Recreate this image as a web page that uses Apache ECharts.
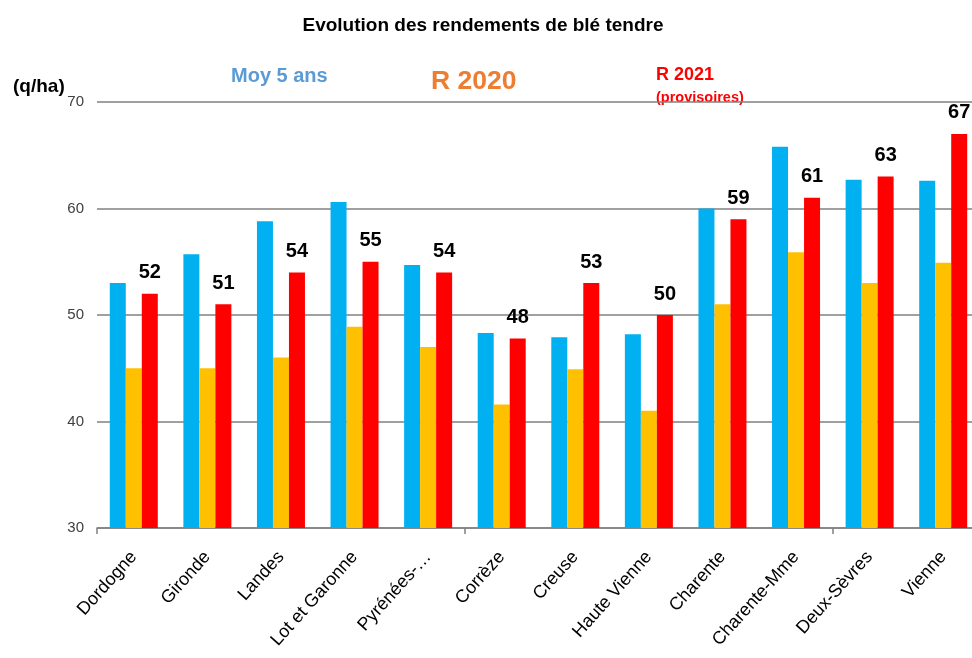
<!DOCTYPE html>
<html>
<head>
<meta charset="utf-8">
<script src="https://cdn.jsdelivr.net/npm/echarts@6/dist/echarts.min.js"></script>
<style>
  html, body { margin: 0; padding: 0; background: #fff; }
  #chart { width: 972px; height: 658px; }
</style>
</head>
<body>
<div id="chart"></div>
<script>
const departements = ["Dordogne", "Gironde", "Landes", "Lot et Garonne", "Pyrénées-…", "Corrèze",
    "Creuse", "Haute Vienne", "Charente", "Charente-Mme", "Deux-Sèvres", "Vienne"];
const moy5ans = [53.0, 55.7, 58.8, 60.6, 54.7, 48.3, 47.9, 48.2, 60.0, 65.8, 62.7, 62.6];
const r2020 = [45.0, 45.0, 46.0, 48.9, 47.0, 41.6, 44.9, 41.0, 51.0, 55.9, 53.0, 54.9];
const r2021 = [52, 51, 54, 55, 54, 47.8, 53, 50, 59, 61, 63, 67];
const yTicks = { min: 30, max: 70, interval: 10 };

const font = "'Liberation Sans', Arial, sans-serif";
const chart = echarts.init(document.getElementById("chart"));

const option = {
    backgroundColor: "#fff",
    animation: false,
    title: {
        text: "Evolution des rendements de blé tendre",
        left: 478, top: 11, textAlign: "center",
        textStyle: { fontFamily: font, fontSize: 19, fontWeight: "bold", color: "#000" },
    },
    graphic: [
        { type: "text", left: 13, top: 77, style: { text: "(q/ha)", font: "bold 19px " + font, fill: "#000" } },
        { type: "text", left: 231, top: 66, style: { text: "Moy 5 ans", font: "bold 20px " + font, fill: "#5B9BD5" } },
        { type: "text", left: 431, top: 68, style: { text: "R 2020", font: "bold 26.5px " + font, fill: "#ED7D31" } },
        { type: "text", left: 656, top: 66, style: { text: "R 2021", font: "bold 18px " + font, fill: "#FF0000" } },
        { type: "text", left: 656, top: 90, style: { text: "(provisoires)", font: "bold 14.5px " + font, fill: "#FF0000" } },
    ],
    grid: { left: 97, width: 883, top: 102, bottom: 130, outerBoundsMode: "none", containLabel: false },
    xAxis: {
        type: "category",
        data: departements,
        axisLine: { lineStyle: { color: "#808080", width: 1.5 } },
        axisTick: {
            show: true, length: 6,
            interval: function (index) { return index % 5 === 0; },
            lineStyle: { color: "#808080", width: 1.5 },
        },
        axisLabel: {
            rotate: 48, margin: 26, interval: 0,
            fontFamily: font, fontSize: 18, color: "#000",
        },
    },
    yAxis: {
        type: "value",
        min: yTicks.min, max: yTicks.max, interval: yTicks.interval,
        axisLine: { show: false },
        axisTick: { show: false },
        axisLabel: { margin: 13, fontFamily: font, fontSize: 15, color: "#404040" },
        splitLine: { show: true, lineStyle: { color: "#808080", width: 1.5 } },
    },
    series: [
        {
            name: "Moy 5 ans", type: "bar", data: moy5ans,
            barWidth: 16, barGap: "0%",
            itemStyle: { color: "#00B0F0" },
        },
        {
            name: "R 2020", type: "bar", data: r2020,
            barWidth: 16, barGap: "0%",
            itemStyle: { color: "#FFC000" },
        },
        {
            name: "R 2021", type: "bar", data: r2021,
            barWidth: 16, barGap: "0%",
            itemStyle: { color: "#FF0000" },
            label: {
                show: true, position: "top", distance: 11,
                fontFamily: font,
                fontSize: 20, fontWeight: "bold", color: "#000",
                formatter: function (p) { return Math.round(p.value); },
            },
        },
    ],
};

chart.setOption(option);
</script>
</body>
</html>
